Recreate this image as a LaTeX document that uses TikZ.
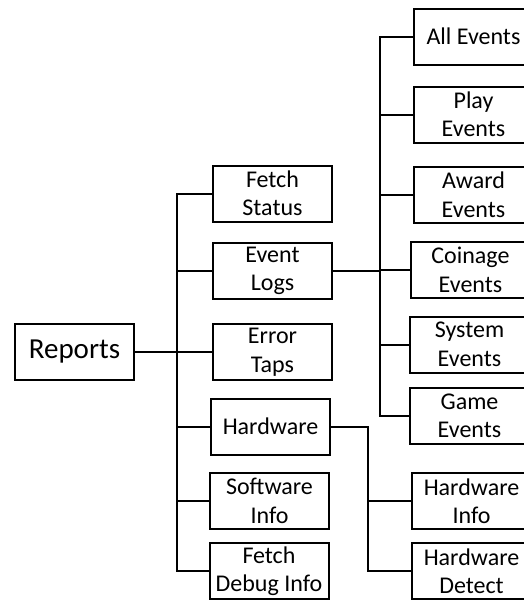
\documentclass[tikz,border=0pt]{standalone}
\usepackage{fontspec}
\setmainfont{Carlito}
\begin{document}
\begin{tikzpicture}[x=1pt, y=-1pt, line cap=rect, line join=miter,
  menubox/.style={draw, line width=2pt, minimum width=119pt, minimum height=56pt,
    inner sep=0pt, align=center, font=\fontsize{24}{28.5}\selectfont},
  link/.style={line width=2pt}]
  \useasboundingbox (0,0) rectangle (524,600);
  \clip (0,0) rectangle (524,600);
  % root and first level
  \node[menubox, font=\fontsize{29}{34}\selectfont] (reports) at (74.5,352) {Reports};
  \node[menubox] (fetchstatus) at (272.5,193.5) {Fetch\\Status};
  \node[menubox] (eventlogs) at (272.5,271) {Event\\Logs};
  \node[menubox] (errortaps) at (272.5,352) {Error\\Taps};
  \node[menubox] (hardware) at (270.5,426.5) {Hardware};
  \node[menubox] (softinfo) at (269.5,501) {Software\\Info};
  \node[menubox] (debuginfo) at (269,571) {Fetch\\Debug Info};
  % event log entries
  \node[menubox] (allevents) at (473.5,36.5) {All Events};
  \node[menubox] (playevents) at (473.5,114.5) {Play\\Events};
  \node[menubox] (awardevents) at (473.5,195) {Award\\Events};
  \node[menubox] (coinevents) at (470.5,270) {Coinage\\Events};
  \node[menubox] (sysevents) at (469.5,344.5) {System\\Events};
  \node[menubox] (gameevents) at (469.5,416) {Game\\Events};
  % hardware entries
  \node[menubox] (hwinfo) at (471.5,501) {Hardware\\Info};
  \node[menubox] (hwdetect) at (471.5,571) {Hardware\\Detect};
  % connectors
  \coordinate (rootbus) at (177,352);
  \coordinate (eventbus) at (380,271);
  \coordinate (hwbus) at (368,426.5);
  \draw[link] (reports.east) -- (rootbus);
  \foreach \n in {fetchstatus,eventlogs,errortaps,hardware,softinfo,debuginfo}{
    \draw[link] (rootbus) |- (\n.west);
  }
  \draw[link] (eventlogs.east) -- (eventbus);
  \foreach \n in {allevents,playevents,awardevents,coinevents,sysevents,gameevents}{
    \draw[link] (eventbus) |- (\n.west);
  }
  \draw[link] (hardware.east) -- (hwbus);
  \foreach \n in {hwinfo,hwdetect}{
    \draw[link] (hwbus) |- (\n.west);
  }
\end{tikzpicture}
\end{document}
